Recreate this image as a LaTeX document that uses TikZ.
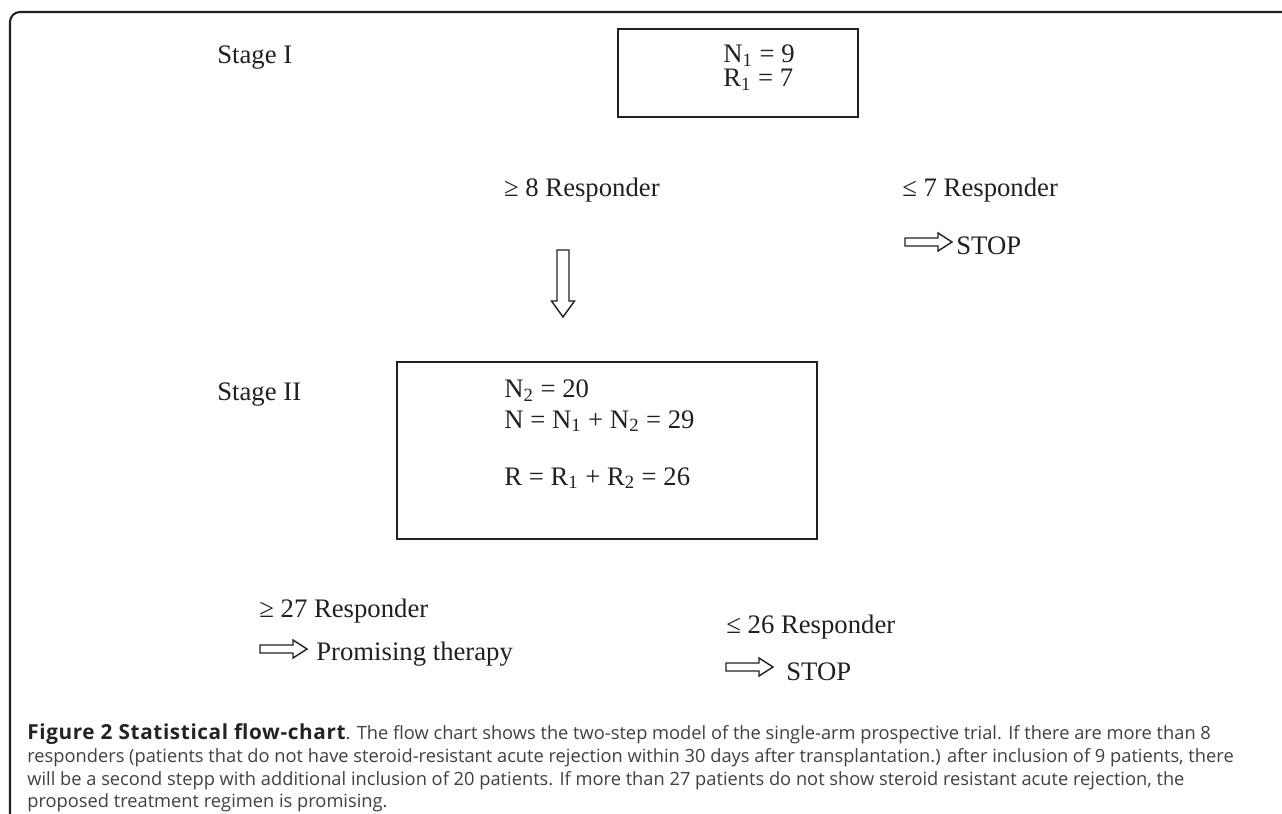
\documentclass[tikz,border=0pt]{standalone}
\usepackage{fontspec}
\setmainfont{Liberation Serif}
\newfontfamily\capfont{Open Sans}
\usepackage{xcolor}
\usetikzlibrary{positioning}
\definecolor{inkgray}{RGB}{35,31,32}
\definecolor{capgray}{RGB}{64,64,64}
\definecolor{capbold}{RGB}{35,35,35}
\newcommand{\capbf}[1]{{\fontsize{11.8}{13}\selectfont\bfseries\addfontfeature{LetterSpace=3}\color{capbold}#1}}
\tikzset{
  % Text im Diagramm
  lbl/.style={inner sep=0pt, text=inkgray, font=\fontsize{15.2}{17.6}\selectfont},
  % Kasten
  box/.style={draw=inkgray, line width=1.1pt, inner sep=0pt},
  % hohle Pfeile
  hollow/.style={draw=inkgray, line width=0.8pt, fill=white},
  sidearrow/.pic={
    \draw[hollow] (0,-4) -- (33,-4) -- (33,-9) -- (47,0) -- (33,9) -- (33,4) -- (0,4) -- cycle;
  },
  downarrow/.pic={
    \draw[hollow] (-6,0) -- (6,0) -- (6,51) -- (11.5,51) -- (0,67) -- (-11.5,51) -- (-6,51) -- cycle;
  },
  % Bildunterschrift, eine Zeile je Knoten
  capline/.style={inner sep=0pt, anchor=base west, text=capgray,
    font=\capfont\fontsize{10.4}{13}\selectfont},
}

\begin{document}
\begin{tikzpicture}[x=0.02cm, y=-0.02cm]
  \useasboundingbox (0,0) rectangle (1282,814);

  % Rahmen
  \draw[inkgray, line width=1.2pt, rounded corners=0.2cm] (1282,12) -- (10,12) -- (10,814);

  % Stage I
  \node[lbl, anchor=base west] (stageI) at (217,64) {Stage I};
  \node[box, minimum width=4.8cm, minimum height=1.76cm] (boxI) at (738,73) {};
  \node[lbl, anchor=base west] (nI) at (723,63) {N\textsubscript{1} = 9};
  \node[lbl, anchor=base west] (rI) at (723,87) {R\textsubscript{1} = 7};

  % Entscheidung nach Stage I
  \node[lbl, anchor=base east] (geEight) at (660,197) {≥ 8 Responder};
  \node[lbl, anchor=base west] (leSeven) at (902,197) {≤ 7 Responder};
  \pic at (905,242) {sidearrow};
  \node[lbl, anchor=base west] (stopI) at (956,255) {STOP};
  \pic at (563,250) {downarrow};

  % Stage II
  \node[lbl, anchor=base west] (stageII) at (217,400) {Stage II};
  \node[box, minimum width=8.4cm, minimum height=3.54cm] (boxII) at (607,450.5) {};
  \node[lbl, anchor=base west] (nII) at (504,398) {N\textsubscript{2} = 20};
  \node[lbl, anchor=base west] (nSum) at (504,428) {N = N\textsubscript{1} + N\textsubscript{2} = 29};
  \node[lbl, anchor=base west] (rSum) at (504,485) {R = R\textsubscript{1} + R\textsubscript{2} = 26};

  % Entscheidung nach Stage II
  \node[lbl, anchor=base west] (geTwentySeven) at (259,617) {≥ 27 Responder};
  \pic at (260,649) {sidearrow};
  \node[lbl, anchor=base west] (promising) at (316,660) {Promising therapy};
  \node[lbl, anchor=base west] (leTwentySix) at (726,633) {≤ 26 Responder};
  \pic at (726,667) {sidearrow};
  \node[lbl, anchor=base west] (stopII) at (786,680) {STOP};

  % Bildunterschrift
  \node[capline] (capA) at (27,739) {\capbf{Figure 2 Statistical flow-chart}. The flow chart shows the two-step model of the single-arm prospective trial. If there are more than 8};
  \node[capline] (capB) at (27,762) {responders (patients that do not have steroid-resistant acute rejection within 30 days after transplantation.) after inclusion of 9 patients, there};
  \node[capline] (capC) at (27,785) {will be a second stepp with additional inclusion of 20 patients. If more than 27 patients do not show steroid resistant acute rejection, the};
  \node[capline] (capD) at (27,807) {proposed treatment regimen is promising.};
\end{tikzpicture}
\end{document}
